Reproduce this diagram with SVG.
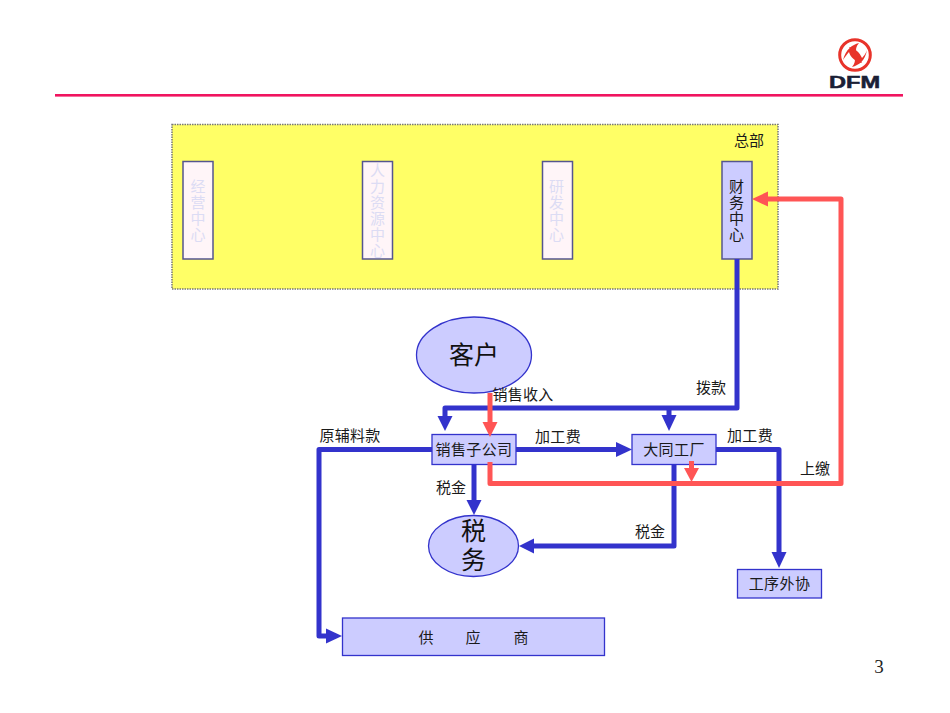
<svg xmlns="http://www.w3.org/2000/svg" width="950" height="713" viewBox="0 0 950 713">
<style>
text{font-family:"Noto Sans CJK SC","Liberation Sans",sans-serif;font-size:15px;fill:#1a1a1a;text-anchor:middle}
.box{fill:#ccccff;stroke:#3333cc;stroke-width:1.3}
.dim{fill:#fff5f8;stroke:#55558f;stroke-width:1.5}
.dimt{fill:#dcdcf4}
.v{writing-mode:vertical-rl;letter-spacing:1px}
.fin{fill:#ccccff;stroke:#55558f;stroke-width:1.5}
.big{font-size:25px;fill:#111}
.b{fill:none;stroke:#3333cc;stroke-width:5;stroke-linejoin:round}
.r{fill:none;stroke:#ff5555;stroke-width:5;stroke-linejoin:round}
.ba{fill:#3333cc}.ra{fill:#ff5555}
</style>
<g id="header">
<rect x="55" y="94" width="848" height="2.6" fill="#f0145f"/>
<g id="logo">
<circle cx="855" cy="55" r="15.300" fill="#fff" stroke="#e8332a" stroke-width="3"/>
<path d="M843 60C846 49 852 45 859 43C853 50 857 56 862 63C856 62 850 57 849 52C847 54 845 57 843 60Z" fill="#e8332a"/>
<path d="M867 50C865 61 859 65 852 67C858 60 854 54 849 47C855 48 860 53 862 58C864 56 866 53 867 50Z" fill="#e8332a"/>
<text x="854.500" y="88" textLength="51" lengthAdjust="spacingAndGlyphs" style="font-family:'Liberation Sans',sans-serif;font-weight:700;font-size:16px;fill:#1a2035;stroke:#1a2035;stroke-width:.5">DFM</text>
</g>
</g>
<g id="hq">
<rect x="172" y="124.500" width="606" height="164.500" fill="#ffff66" stroke="#777" stroke-width="1.500" stroke-dasharray="1.500 1"/>
<text x="749" y="146">总部</text>
</g>
<g id="n-jingying"><rect class="dim" x="183" y="161.500" width="30" height="97.500"/><text class="dimt v" x="198" y="210.500">经营中心</text></g>
<g id="n-renli"><rect class="dim" x="362.500" y="161.500" width="30" height="97.500"/><text class="dimt v" x="377.500" y="210.500">人力资源中心</text></g>
<g id="n-yanfa"><rect class="dim" x="542.500" y="161.500" width="30" height="97.500"/><text class="dimt v" x="556.500" y="210.500">研发中心</text></g>
<g id="n-caiwu"><rect class="fin" x="722" y="161.500" width="30" height="97.500"/><text class="v" x="736.500" y="210.500">财务中心</text></g>
<g id="n-kehu"><ellipse class="box" cx="474" cy="355" rx="57.500" ry="38"/><text class="big" x="474" y="364">客户</text></g>
<g id="n-xiaoshou"><rect class="box" x="432" y="434.500" width="84" height="30"/><text x="474" y="455" letter-spacing=".4">销售子公司</text></g>
<g id="n-datong"><rect class="box" x="632" y="434.500" width="84" height="30"/><text x="674" y="455" letter-spacing=".4">大同工厂</text></g>
<g id="n-shuiwu"><ellipse class="box" cx="473.500" cy="546" rx="45" ry="30.500"/><text class="big v" x="473.500" y="547" style="letter-spacing:4px">税务</text></g>
<g id="n-waixie"><rect class="box" x="737.500" y="569.500" width="84" height="28.500"/><text x="779.500" y="589" letter-spacing=".4">工序外协</text></g>
<g id="n-gongying"><rect class="box" x="342.500" y="618" width="262" height="37.500"/><text y="643"><tspan x="426">供</tspan><tspan x="473">应</tspan><tspan x="521">商</tspan></text></g>
<g id="connectors">
<path class="b" d="M737 259V408H445V418"/><polygon class="ba" points="437.500,416 452.500,416 445,431"/>
<path class="b" d="M669 408V417"/><polygon class="ba" points="661.500,415 676.500,415 669,431"/>
<path class="b" d="M516 449.500H618"/><polygon class="ba" points="616,442 616,457 632,449.500"/>
<path class="b" d="M432 449.500H319V636H330"/><polygon class="ba" points="326,628.500 326,643.500 342,636"/>
<path class="b" d="M474 464.500V502"/><polygon class="ba" points="466.500,500 481.500,500 474,515"/>
<path class="b" d="M674 464.500V546H532"/><polygon class="ba" points="534,538.500 534,553.500 519,546"/>
<path class="b" d="M716 449.500H779V555"/><polygon class="ba" points="771.500,552 786.500,552 779,568"/>
<path class="r" d="M490 393V424"/><polygon class="ra" points="482.500,422 497.500,422 490,437"/>
<path class="r" d="M490 462V483.500H841V199H765"/><polygon class="ra" points="768,191.500 768,206.500 752,199"/>
<path class="r" d="M691.500 461V472"/><polygon class="ra" points="684,468 699,468 691.500,482"/>
</g>
<g id="labels">
<text x="523" y="400" letter-spacing=".3">销售收入</text>
<text x="711" y="393">拨款</text>
<text x="350" y="441" letter-spacing=".3">原辅料款</text>
<text x="558" y="442" letter-spacing=".3">加工费</text>
<text x="750" y="441" letter-spacing=".3">加工费</text>
<text x="815" y="474">上缴</text>
<text x="451" y="493">税金</text>
<text x="650" y="537">税金</text>
</g>
<text x="879" y="673" style="font-family:'Liberation Serif',serif;font-size:19px;fill:#222">3</text>
</svg>
